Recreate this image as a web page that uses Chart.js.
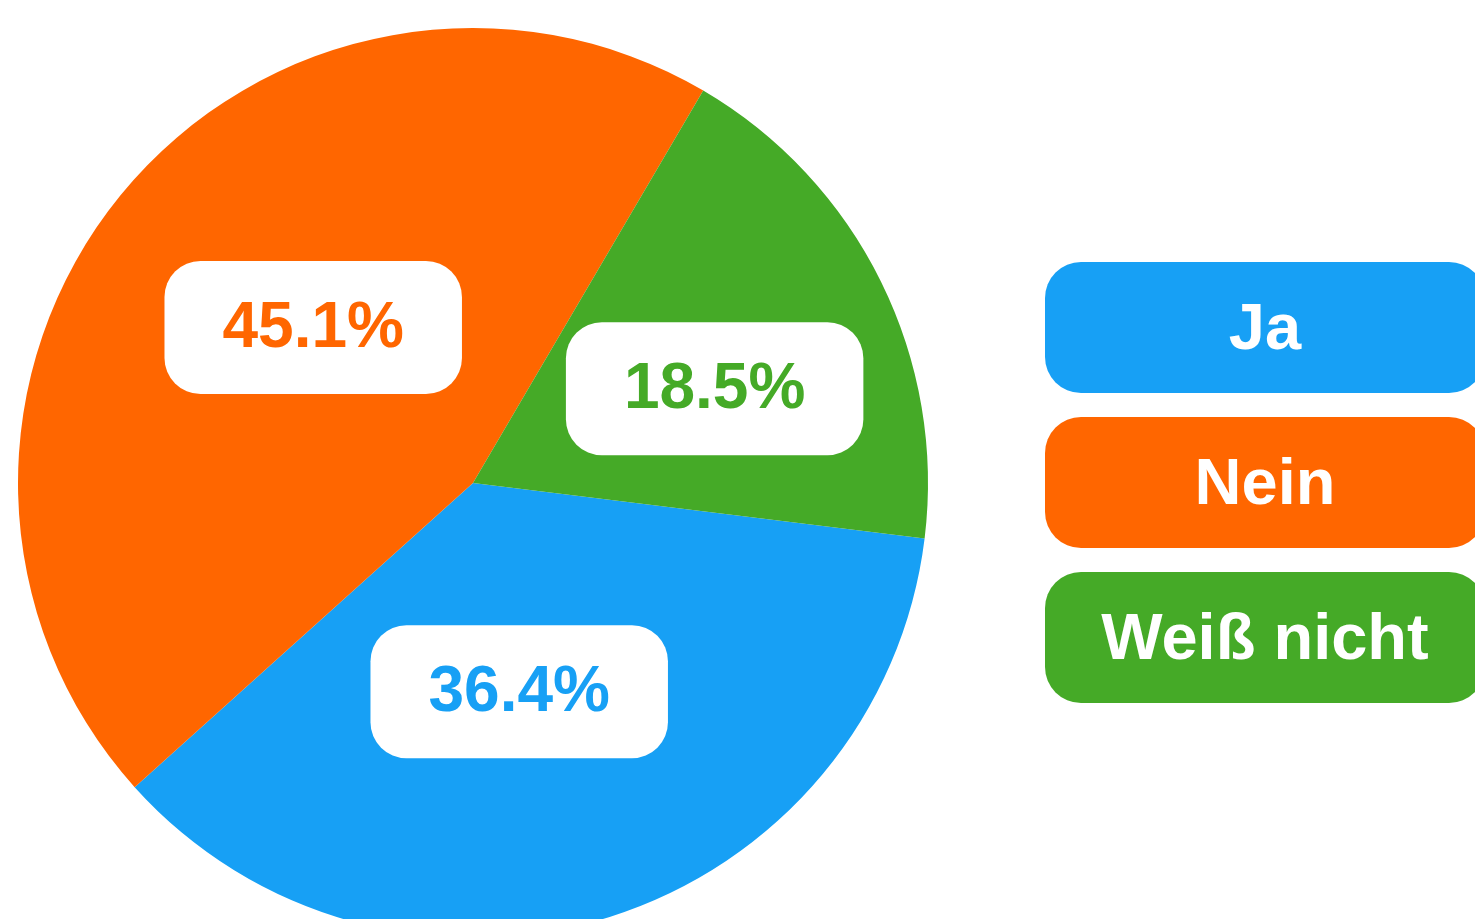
<!DOCTYPE html>
<html lang="de">
<head>
<meta charset="utf-8">
<title>Umfrage</title>
<script src="https://cdn.jsdelivr.net/npm/chart.js@4.4.1/dist/chart.umd.min.js"></script>
<style>
  html, body { margin: 0; padding: 0; background: #fff; overflow: hidden; }
  #wrap { position: relative; width: 1475px; height: 950px; }
</style>
</head>
<body>
<div id="wrap"><canvas id="pieChart"></canvas></div>
<script>
// Survey answers and their shares in percent
const categories = ["Ja", "Nein", "Weiß nicht"];
const shares = [36.4, 45.1, 18.5];
const sliceColors = ["#17a0f5", "#ff6600", "#45aa27"];

document.addEventListener("DOMContentLoaded", function () {
  const ctx = document.getElementById("pieChart").getContext("2d");
  const fontFamily = '"Liberation Sans", Arial, sans-serif';

  function roundBox(c, x, y, w, h, r, fill) {
    c.beginPath();
    c.roundRect(x, y, w, h, r);
    c.fillStyle = fill;
    c.fill();
  }

  // white pill with the percentage in each slice
  const sliceLabels = {
    id: "sliceLabels",
    afterDatasetsDraw(chart) {
      const c = chart.ctx;
      const meta = chart.getDatasetMeta(0);
      const radiusFactor = [0.47, 0.49, 0.57]; // how far out each pill sits
      const shift = (5 * Math.PI) / 180;
      c.save();
      c.font = "bold 64px " + fontFamily;
      c.textAlign = "center";
      c.textBaseline = "middle";
      meta.data.forEach((arc, i) => {
        const p = arc.getProps(["x", "y", "startAngle", "endAngle", "outerRadius"], true);
        const mid = (p.startAngle + p.endAngle) / 2 + shift;
        const rr = p.outerRadius * radiusFactor[i];
        const cx = p.x + Math.cos(mid) * rr;
        const cy = p.y + Math.sin(mid) * rr;
        const text = shares[i].toFixed(1) + "%";
        const w = c.measureText(text).width + 116;
        const h = 133;
        roundBox(c, cx - w / 2, cy - h / 2, w, h, 36, "#ffffff");
        c.fillStyle = sliceColors[i];
        c.fillText(text, cx, cy + 2);
      });
      c.restore();
    },
  };

  // legend as coloured pills on the right
  const pillLegend = {
    id: "pillLegend",
    afterDraw(chart) {
      const c = chart.ctx;
      const left = 1045, width = 440, height = 131, gap = 24, top = 262;
      c.save();
      c.font = "bold 65px " + fontFamily;
      c.textAlign = "center";
      c.textBaseline = "middle";
      chart.data.labels.forEach((label, i) => {
        const y = top + i * (height + gap);
        roundBox(c, left, y, width, height, 36, sliceColors[i]);
        c.fillStyle = "#ffffff";
        c.fillText(label, left + width / 2, y + height / 2 + 4);
      });
      c.restore();
    },
  };

  new Chart(ctx, {
    type: "pie",
    data: {
      labels: categories,
      datasets: [
        {
          data: shares,
          backgroundColor: sliceColors,
          borderWidth: 0,
          hoverOffset: 0,
        },
      ],
    },
    options: {
      responsive: true,
      maintainAspectRatio: false,
      animation: false,
      rotation: 97,
      layout: { padding: { left: 18, top: 28, right: 547, bottom: 12 } },
      plugins: {
        legend: { display: false },
        tooltip: { enabled: false },
      },
    },
    plugins: [sliceLabels, pillLegend],
  });
});
</script>
</body>
</html>
